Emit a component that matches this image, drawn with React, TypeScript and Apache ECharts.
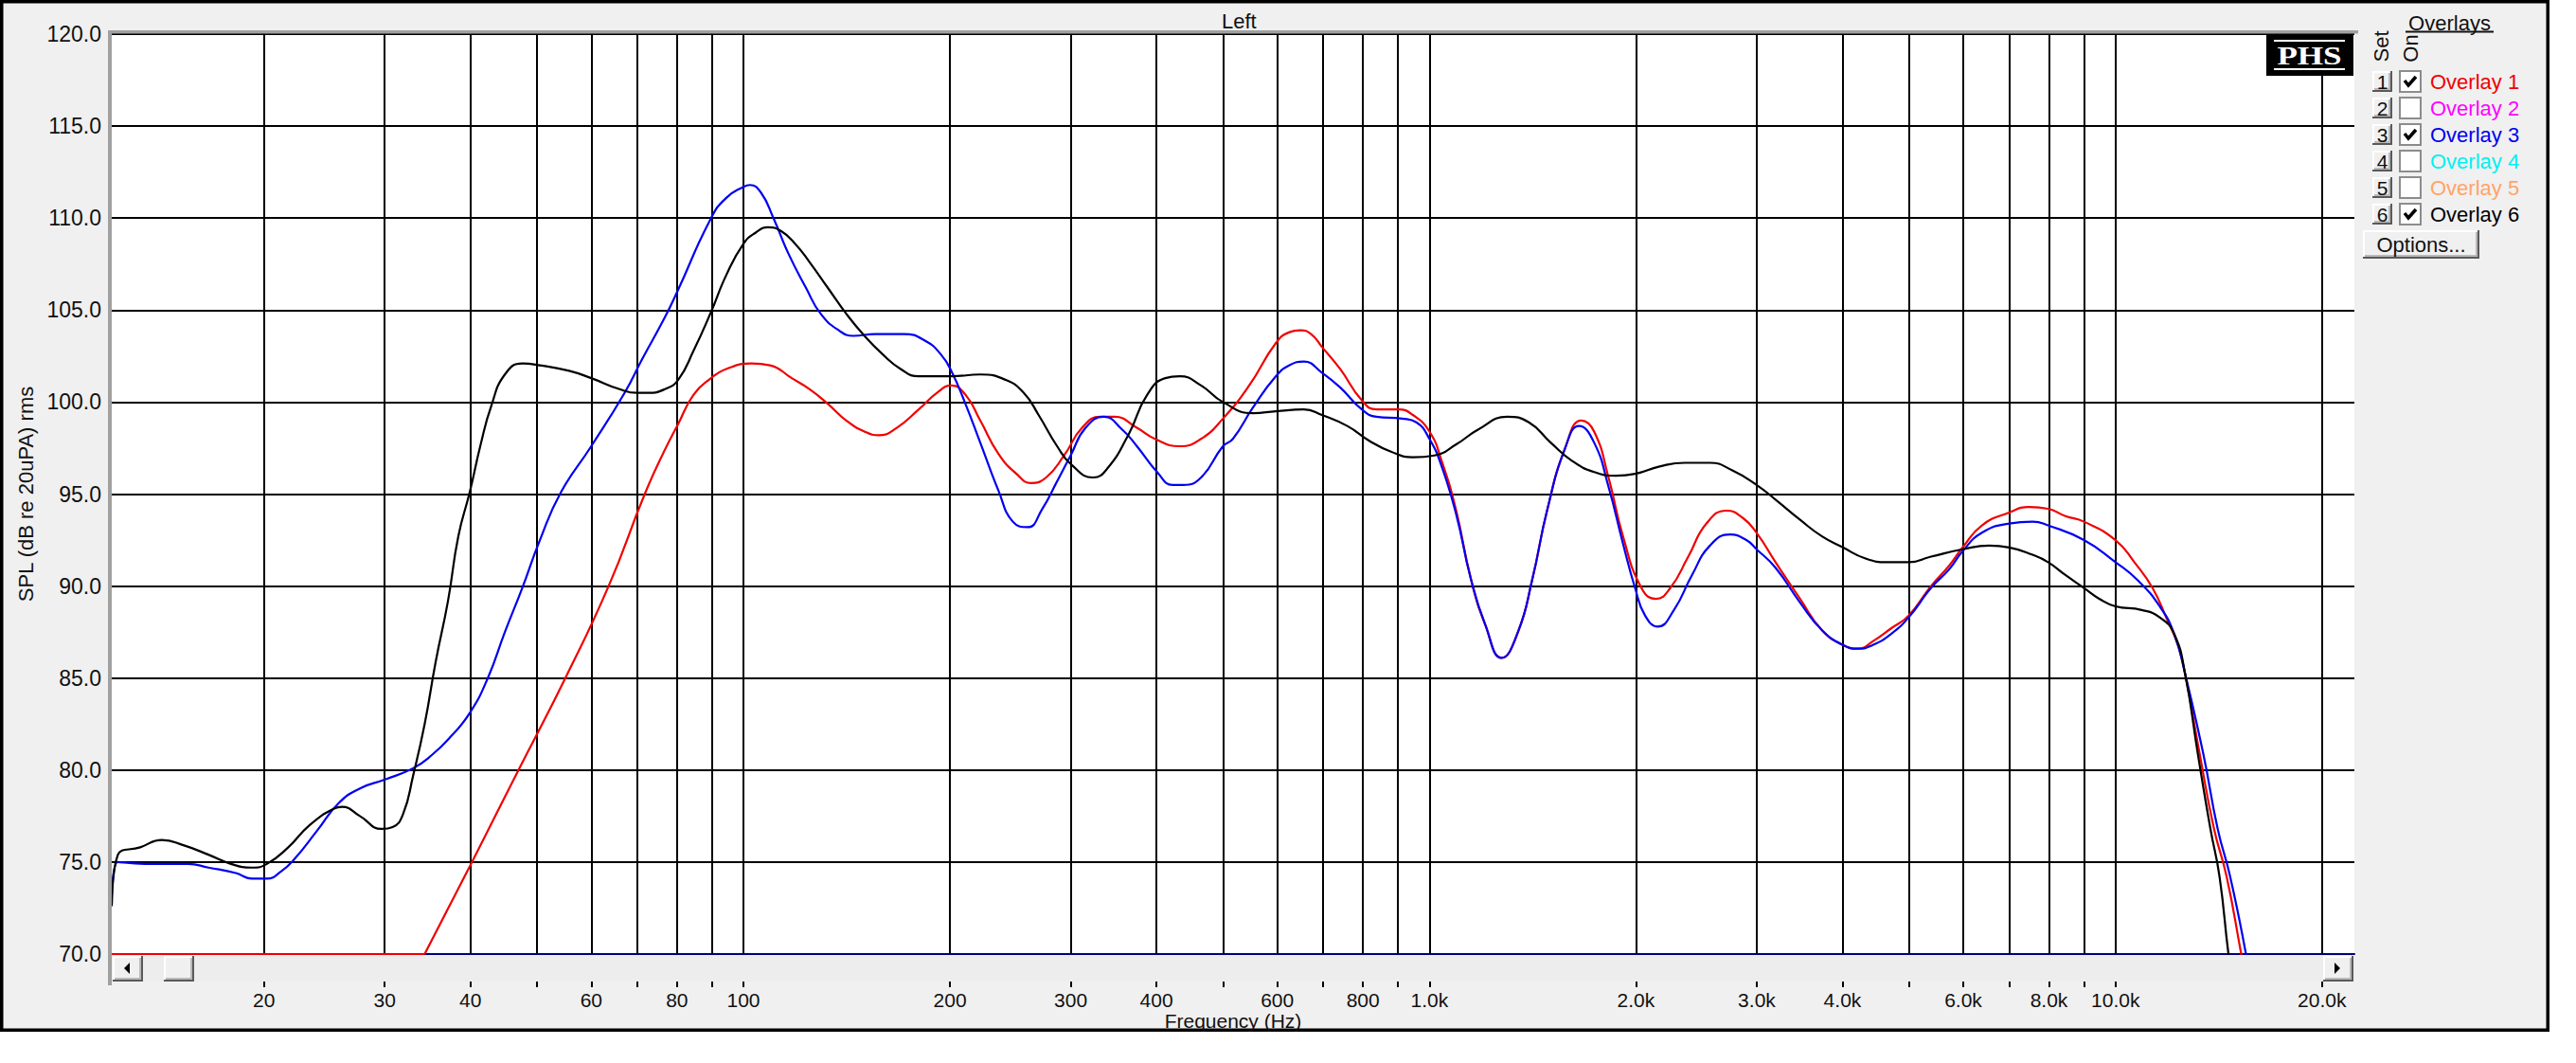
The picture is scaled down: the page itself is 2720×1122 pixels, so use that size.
import React, { useEffect, useRef } from "react";
import * as echarts from "echarts";

const FONT = '"Liberation Sans", Arial, sans-serif';

// ---- data (frequency in Hz, SPL in dB; null = break between the clamped floor and the curve) ----
const redFreq = [
  12, 34.3, 34.3, 34.3, 40.2, 47.0, 55.0, 63.6, 71.8, 76.8, 80.3, 84.6,
  89.7, 94.4, 102.8, 109.3, 117.6,
  124.9, 132.8, 141.2, 150.1, 157.5, 167.3, 180.1, 191.5, 200.9, 210.7,
  221.4, 235.3, 250, 262.6, 276.2, 293.4, 311.6, 331.2, 347.6, 374.6,
  398, 432.5, 464.6, 500, 546, 597, 625, 648, 672, 697,
  741, 797, 837, 901, 946, 1000, 1042, 1094, 1149, 1206,
  1274, 1346, 1413, 1484, 1577, 1665, 1738, 1824, 1915, 2037,
  2139, 2245, 2384, 2534, 2710, 2864, 2998, 3195, 3470, 3735,
  4006, 4218, 4430, 4710, 4996, 5385, 5720, 5988, 6388, 6999,
  7483, 7975, 8454, 8996, 10000, 10654, 11323, 11887, 12330, 12638,
  13263, 13923, 14526, 15254, 15700,
];
const redSpl = [
  70, 70, null, 70, 75.0, 80.0, 85.0, 90.0, 95.0, 97.4, 98.8, 100.4,
  101.3, 101.8, 102.1, 102.0, 101.3,
  100.7, 99.9, 99.0, 98.4, 98.2, 98.6, 99.6, 100.5, 100.9, 100.4,
  99.0, 97.2, 96.1, 95.6, 95.9, 97.1, 98.6, 99.2, 99.2, 98.6,
  98.0, 97.6, 98.0, 99.1, 100.9, 103.2, 103.8, 103.9, 103.7, 103.0,
  101.8, 100.1, 99.6, 99.6, 99.3, 98.4, 96.8, 94.1, 90.4, 87.9,
  86.1, 87.5, 90.4, 94.1, 97.5, 99.0, 98.4, 95.9, 92.7, 89.9,
  89.3, 89.9, 91.6, 93.4, 94.1, 93.7, 92.9, 91.3, 89.3, 87.6,
  86.8, 86.6, 87.0, 87.7, 88.4, 90.0, 91.1, 92.1, 93.3, 94.0,
  94.3, 94.2, 93.8, 93.5, 92.5, 91.3, 89.9, 88.2, 86.8, 85.2,
  80.9, 76.8, 74.2, 70.0, 67.5,
];

const blueFreq = [
  12, 12.25, 13.4, 15.5, 16.6, 18.2, 19.2, 20.2, 21.2, 22.2,
  23.9, 25.7, 27.6, 30.1, 33.0, 35.1, 37.4, 39.9, 42.4, 44.9,
  47.6, 50.5, 54.2, 60, 67.1, 71.1, 76.8, 80.3, 89.7, 94.4,
  100, 102.2, 106, 110.6, 116.2, 123.4, 129.6, 137.7, 144.6, 155.7,
  171.5, 184.6, 193.9, 200.9, 210.7, 221.4, 235.3, 247, 259.5, 272.7,
  286.6, 299.9, 315.3, 335.3, 356.6, 374.6, 400.9, 422.3, 437.6, 464.6,
  500, 517, 553, 597, 625, 656, 697, 741, 797, 837,
  912, 957, 1000, 1042, 1094, 1149, 1206, 1274, 1346, 1413,
  1484, 1577, 1652, 1738, 1824, 1915, 1994, 2062, 2152, 2272,
  2414, 2564, 2744, 2897, 2998, 3195, 3470, 3735, 4006, 4218,
  4430, 4710, 4996, 5385, 5720, 5988, 6388, 6999, 7571, 7975,
  8996, 10000, 10787, 11600, 12180, 12638, 13426, 14095, 14699, 15497,
  15900,
];
const blueSpl = [
  72.7, 75.0, 74.9, 74.9, 74.7, 74.4, 74.1, 74.1, 74.5, 75.2,
  76.7, 78.2, 79.0, 79.5, 80.1, 80.8, 81.8, 83.1, 85.0, 87.5,
  89.9, 92.5, 95.1, 97.6, 100.5, 102.3, 104.6, 106.1, 110.0, 111.1,
  111.7, 111.8, 111.4, 110.0, 108.1, 106.2, 104.8, 103.9, 103.6, 103.7,
  103.7, 103.3, 102.6, 101.7, 99.9, 97.8, 95.2, 93.5, 93.2, 94.2,
  95.7, 97.1, 98.6, 99.2, 98.5, 97.6, 96.2, 95.5, 95.5, 95.9,
  97.6, 98.0, 99.7, 101.4, 102.0, 102.2, 101.6, 100.8, 99.6, 99.2,
  99.1, 98.9, 98.0, 96.5, 93.9, 90.4, 87.9, 86.1, 87.5, 90.4,
  94.1, 97.5, 98.7, 97.8, 95.4, 92.3, 89.9, 88.4, 87.8, 88.7,
  90.6, 92.2, 92.8, 92.5, 92.0, 91.0, 89.1, 87.6, 86.8, 86.6,
  86.8, 87.4, 88.3, 89.9, 90.9, 91.9, 92.9, 93.4, 93.5, 93.3,
  92.5, 91.3, 90.3, 88.9, 87.4, 85.2, 80.9, 76.8, 74.2, 70.0,
  67.5,
];

const blackFreq = [
  12, 12.25, 13.2, 14.2, 15.3, 16.6, 17.9, 19.2, 20.2, 21.7,
  23.3, 25.3, 26.0, 27.6, 29.7, 30.8, 31.9, 33.0, 34.3, 35.6,
  37.1, 38.4, 39.9, 41.4, 42.9, 44.9, 47.6, 50.5, 55.7, 60,
  66, 70, 72.6, 76.8, 80.3, 84.6, 89.7, 94.4, 100, 104.1,
  108.6, 113.4, 119, 124.9, 132.8, 141.2, 150.1, 159.5, 169.5, 180.1,
  200.9, 221.4, 241.3, 256.3, 269.3, 286.6, 300.6, 323.3, 339.4, 364.9,
  387.8, 412, 432.5, 464.6, 500, 553, 597, 656, 697, 759,
  817, 879, 946, 1017, 1094, 1177, 1298, 1396, 1502, 1615,
  1738, 1869, 1994, 2165, 2356, 2564, 2760, 2998, 3195, 3470,
  3735, 4006, 4322, 4653, 4996, 5385, 5988, 6548, 6999, 7571,
  7975, 8454, 8996, 9480, 10000, 10917, 11600, 12180, 12638, 13183,
  13756, 14182, 14613, 15000,
];
const blackSpl = [
  72.6, 75.4, 75.8, 76.2, 75.9, 75.4, 74.9, 74.7, 74.9, 75.8,
  77.0, 77.9, 78.0, 77.5, 76.8, 76.9, 77.6, 79.7, 82.5, 85.9,
  89.2, 92.7, 95.1, 97.7, 99.8, 101.5, 102.1, 102.0, 101.7, 101.3,
  100.7, 100.5, 100.5, 100.7, 101.2, 102.8, 104.9, 106.9, 108.6, 109.2,
  109.5, 109.3, 108.6, 107.6, 106.2, 104.8, 103.6, 102.6, 101.8, 101.4,
  101.4, 101.5, 101.2, 100.5, 99.3, 97.6, 96.6, 95.9, 96.4, 98.3,
  100.4, 101.3, 101.4, 100.9, 100.0, 99.4, 99.5, 99.6, 99.3, 98.7,
  97.9, 97.3, 97.0, 97.1, 97.7, 98.5, 99.2, 98.9, 97.8, 96.8,
  96.2, 96.0, 96.1, 96.5, 96.7, 96.7, 96.3, 95.5, 94.7, 93.6,
  92.7, 92.1, 91.5, 91.3, 91.3, 91.6, 92.0, 92.2, 92.1, 91.7,
  91.3, 90.6, 89.9, 89.3, 88.9, 88.7, 88.3, 87.4, 85.2, 80.9,
  76.8, 74.2, 70.0, 67.0,
];

const gridFreqs = [
  20, 30, 40, 50, 60, 70, 80, 90, 100, 200, 300, 400, 500, 600, 700, 800, 900,
  1000, 2000, 3000, 4000, 5000, 6000, 7000, 8000, 9000, 10000, 20000,
];
const labelFreqs = [
  20, 30, 40, 60, 80, 100, 200, 300, 400, 600, 800, 1000, 2000, 3000, 4000,
  6000, 8000, 10000, 20000,
];
const freqMin = 12;
const freqMax = 22300;
const splMin = 70;
const splMax = 120;
const splStep = 5;

const overlayNames = ["Overlay 1", "Overlay 2", "Overlay 3", "Overlay 4", "Overlay 5", "Overlay 6"];
const overlayColors = ["#f00000", "#ff00ff", "#0000f0", "#00f0f0", "#ffa468", "#000000"];
const overlayOn = [true, false, true, false, false, true];

const lg = (f: number) => Math.log10(f);
const pts = (fs: number[], vs: (number | null)[]) =>
  fs.map((f, i) => (vs[i] === null ? [lg(f), "-"] : [lg(f), vs[i]]));
const fmtFreq = (v: number) => {
  const f = Math.round(Math.pow(10, v));
  return f >= 1000 ? (f / 1000).toFixed(1) + "k" : String(f);
};

function txt(x: number, y: number, text: string, opts: any = {}) {
  const size = opts.size || 22;
  return {
    type: "text",
    x,
    y,
    z: 20,
    rotation: opts.rotation || 0,
    scaleX: opts.scaleX || 1,
    style: {
      text,
      fill: opts.color || "#111",
      fontSize: size,
      fontFamily: opts.family || FONT,
      fontWeight: opts.weight || "normal",
      font: `${opts.weight || "normal"} ${size}px ${opts.family || FONT}`,
      align: opts.align || "left",
      textAlign: opts.align || "left",
      verticalAlign: "middle",
      textVerticalAlign: "middle",
    },
  };
}

function bevel(x: number, y: number, w: number, h: number) {
  return [
    { type: "rect", z: 15, shape: { x, y, width: w, height: h }, style: { fill: "#f0f0f0" } },
    {
      type: "polyline", z: 16,
      shape: { points: [[x + 1, y + h - 1], [x + 1, y + 1], [x + w - 1, y + 1]] },
      style: { stroke: "#ffffff", lineWidth: 2, fill: null },
    },
    {
      type: "polyline", z: 16,
      shape: { points: [[x, y + h - 1], [x + w - 1, y + h - 1], [x + w - 1, y]] },
      style: { stroke: "#5a5a5a", lineWidth: 2, fill: null },
    },
    {
      type: "polyline", z: 16,
      shape: { points: [[x + 2, y + h - 3], [x + w - 3, y + h - 3], [x + w - 3, y + 2]] },
      style: { stroke: "#a8a8a8", lineWidth: 1.5, fill: null },
    },
  ];
}

function buildGraphic() {
  const els: any[] = [];
  // outer frame
  els.push({
    type: "rect", z: -10,
    shape: { x: 1.75, y: 1.75, width: 2688.5, height: 1085.5 },
    style: { fill: "#f0f0f0", stroke: "#000", lineWidth: 3.5 },
  });
  // sunken border of plot
  els.push({ type: "rect", z: 12, shape: { x: 114, y: 32, width: 4, height: 1008 }, style: { fill: "#a0a0a0" } });
  els.push({ type: "rect", z: 12, shape: { x: 114, y: 32, width: 2376, height: 3.5 }, style: { fill: "#a0a0a0" } });
  // scrollbar
  els.push({ type: "rect", z: 12, shape: { x: 118, y: 1008, width: 2368, height: 28 }, style: { fill: "#ededed" } });
  els.push(...bevel(119, 1009, 32, 27));
  els.push({ type: "polygon", z: 17, shape: { points: [[137, 1016], [137, 1028], [131, 1022]] }, style: { fill: "#000" } });
  els.push(...bevel(173, 1009, 32, 27));
  els.push(...bevel(2453, 1009, 32, 27));
  els.push({ type: "polygon", z: 17, shape: { points: [[2465, 1016], [2465, 1028], [2471, 1022]] }, style: { fill: "#000" } });
  // PHS logo
  els.push({ type: "rect", z: 14, shape: { x: 2393, y: 36, width: 92, height: 44 }, style: { fill: "#000" } });
  els.push({ type: "line", z: 15, shape: { x1: 2401, y1: 43, x2: 2476, y2: 43 }, style: { stroke: "#fff", lineWidth: 2 } });
  els.push({ type: "line", z: 15, shape: { x1: 2401, y1: 73, x2: 2476, y2: 73 }, style: { stroke: "#fff", lineWidth: 2 } });
  els.push(txt(2438.5, 58.5, "PHS", { color: "#fff", size: 27, weight: "bold", family: '"Liberation Serif", "Times New Roman", serif', align: "center", scaleX: 1.3 }));
  // overlays panel
  els.push(txt(2586.5, 24, "Overlays", { size: 22, align: "center" }));
  els.push({ type: "line", z: 15, shape: { x1: 2540, y1: 33.5, x2: 2633, y2: 33.5 }, style: { stroke: "#111", lineWidth: 2 } });
  els.push(txt(2514, 49, "Set", { size: 22, align: "center", rotation: Math.PI / 2 }));
  els.push(txt(2545, 51, "On", { size: 22, align: "center", rotation: Math.PI / 2 }));
  overlayNames.forEach((name, i) => {
    const cy = 86 + 28 * i;
    els.push(...bevel(2505, cy - 11, 21, 22));
    els.push(txt(2515.5, cy, String(i + 1), { size: 21, align: "center" }));
    els.push({
      type: "rect", z: 15,
      shape: { x: 2534, y: cy - 11, width: 22, height: 22 },
      style: { fill: "#fff", stroke: "#8c8c8c", lineWidth: 2 },
    });
    if (overlayOn[i]) {
      els.push({
        type: "polyline", z: 16,
        shape: { points: [[2539, cy - 1], [2543, cy + 4], [2551, cy - 5]] },
        style: { stroke: "#000", lineWidth: 3.5, fill: null },
      });
    }
    els.push(txt(2566, cy, name, { size: 22, color: overlayColors[i] }));
  });
  els.push(...bevel(2495, 243, 123, 30));
  els.push(txt(2556.5, 258, "Options...", { size: 22, align: "center" }));
  return els;
}

export default function App() {
  const ref = useRef<HTMLDivElement>(null);
  useEffect(() => {
    if (!ref.current) return;
    const chart = echarts.init(ref.current, null, { renderer: "svg", width: 2720, height: 1122 });
    const xMin = lg(freqMin);
    const xMax = lg(freqMax);
    const gridVals = gridFreqs.map(lg);
    const labelVals = labelFreqs.map(lg);
    const lineSeries = (name: string, fs: number[], vs: (number | null)[], color: string, z: number) => ({
      type: "line",
      name,
      data: pts(fs, vs),
      xAxisIndex: 0,
      yAxisIndex: 0,
      showSymbol: false,
      symbol: "none",
      smooth: 0.5,
      connectNulls: false,
      clip: true,
      z,
      lineStyle: { color, width: 2.2 },
      itemStyle: { color },
      emphasis: { disabled: true },
    });
    chart.setOption({
      animation: false,
      backgroundColor: "#ffffff",
      textStyle: { fontFamily: FONT },
      title: {
        text: "Left",
        left: 1285,
        top: 6,
        textStyle: { fontSize: 22, fontWeight: "normal", color: "#111", fontFamily: FONT },
      },
      grid: {
        left: 118, right: 234, top: 36, bottom: 115,
        show: true, backgroundColor: "#ffffff", borderWidth: 0,
      },
      xAxis: [
        {
          type: "value",
          min: xMin,
          max: xMax,
          position: "bottom",
          z: 1,
          axisLine: { show: true, lineStyle: { color: "#000080", width: 2 } },
          axisTick: { show: false, customValues: gridVals },
          axisLabel: { show: false },
          splitLine: { show: true, lineStyle: { color: "#000", width: 2 } },
        },
        {
          type: "value",
          min: xMin,
          max: xMax,
          position: "bottom",
          offset: 29,
          axisLine: { show: false },
          axisTick: { show: true, customValues: gridVals, length: 6, lineStyle: { color: "#000", width: 2 } },
          axisLabel: {
            customValues: labelVals,
            formatter: (v: number) => fmtFreq(v),
            fontSize: 21,
            lineHeight: 21,
            color: "#111",
            margin: 9,
            fontFamily: FONT,
          },
          splitLine: { show: false },
          name: "Frequency (Hz)",
          nameLocation: "middle",
          nameGap: 31,
          nameMoveOverlap: false,
          nameTextStyle: { fontSize: 21, lineHeight: 21, color: "#111", fontFamily: FONT },
        },
      ],
      yAxis: {
        type: "value",
        min: splMin,
        max: splMax,
        interval: splStep,
        position: "left",
        axisLine: { show: false },
        axisTick: { show: false },
        axisLabel: {
          formatter: (v: number) => v.toFixed(1),
          fontSize: 23,
          color: "#111",
          margin: 11,
          fontFamily: FONT,
        },
        splitLine: { show: true, lineStyle: { color: "#000", width: 2 } },
        name: "SPL (dB re 20uPA) rms",
        nameLocation: "middle",
        nameGap: 80,
        nameRotate: 90,
        nameMoveOverlap: false,
        nameTextStyle: { fontSize: 22, color: "#111", fontFamily: FONT },
      },
      series: [
        lineSeries("Overlay 1", redFreq, redSpl, overlayColors[0], 3),
        lineSeries("Overlay 3", blueFreq, blueSpl, overlayColors[2], 4),
        lineSeries("Overlay 6", blackFreq, blackSpl, overlayColors[5], 5),
      ],
      graphic: { elements: buildGraphic() },
    });
    return () => chart.dispose();
  }, []);
  return <div ref={ref} style={{ position: "absolute", left: 0, top: 0, width: 2720, height: 1122 }} />;
}
